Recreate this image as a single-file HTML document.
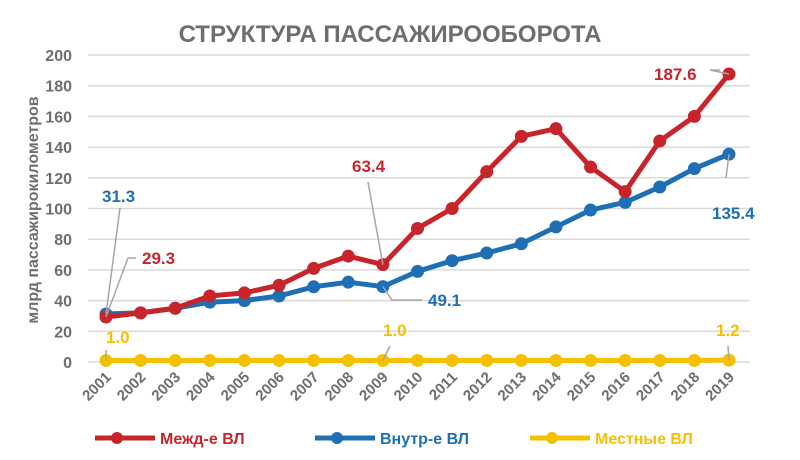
<!DOCTYPE html>
<html><head><meta charset="utf-8"><style>
body{margin:0;background:#fff;width:800px;height:455px;overflow:hidden;font-family:"Liberation Sans",sans-serif}
svg text{font-family:"Liberation Sans",sans-serif;font-weight:bold}
</style></head><body>
<svg id="c" width="800" height="455">
<text x="390" y="42" text-anchor="middle" font-size="24" fill="#6e6e6e">СТРУКТУРА ПАССАЖИРООБОРОТА</text>
<text transform="translate(38,210) rotate(-90)" text-anchor="middle" font-size="16" fill="#6e6e6e">млрд  пассажирокилометров</text>
<g id="grid"></g><g id="series"></g><g id="labels"></g>
<g>
<g><line x1="95" y1="438" x2="155" y2="438" stroke="#c8242b" stroke-width="5"/><circle cx="117" cy="438" r="6" fill="#c8242b"/><text x="160" y="444" font-size="16" fill="#c8242b">Межд-е ВЛ</text></g>
<g><line x1="315" y1="438" x2="375" y2="438" stroke="#1f6fb5" stroke-width="5"/><circle cx="337" cy="438" r="6" fill="#1f6fb5"/><text x="380" y="444" font-size="16" fill="#1f6fb5">Внутр-е ВЛ</text></g>
<g><line x1="530" y1="438" x2="590" y2="438" stroke="#f5c000" stroke-width="5"/><circle cx="552" cy="438" r="6" fill="#f5c000"/><text x="595" y="444" font-size="16" fill="#f5c000">Местные ВЛ</text></g>
</g>
</svg>
<script>
const categories=["2001","2002","2003","2004","2005","2006","2007","2008","2009","2010","2011","2012","2013","2014","2015","2016","2017","2018","2019"];
const mezhd=[29.3,32,35,43,45,50,61,69,63.4,87,100,124,147,152,127,111,144,160,187.6];
const vnutr=[31.3,32,35,39,40,43,49,52,49.1,59,66,71,77,88,99,104,114,126,135.4];
const mestnye=[1.0,1,1,1,1,1,1,1,1.0,1,1,1,1,1,1,1,1,1,1.2];
const yTicks=[0,20,40,60,80,100,120,140,160,180,200];
const NS="http://www.w3.org/2000/svg";
const x=i=>106+i*(729-106)/(categories.length-1);
const y=v=>362-v*(362-55)/200;
function mk(t,a,p){const e=document.createElementNS(NS,t);for(const k in a)e.setAttribute(k,a[k]);p.appendChild(e);return e;}
const grid=document.getElementById('grid'),ser=document.getElementById('series'),lab=document.getElementById('labels');
yTicks.forEach(v=>{
 const l=mk('line',{x1:88,x2:750,y1:y(v),y2:y(v),stroke:'#d9d9d9','stroke-width':1.5},grid);
 
 
 const t=mk('text',{x:72,y:y(v)+6,'text-anchor':'end','font-size':16,fill:'#6e6e6e'},grid);t.textContent=v;
 
 
});
categories.forEach((c,i)=>{
 const t=mk('text',{transform:`translate(${x(i)+6},${378}) rotate(-45)`,'text-anchor':'end','font-size':15,fill:'#6e6e6e'},grid);t.textContent=c;
 
 
});
function series(d,col,name){
 const g=mk('g',{},ser);
 
 
 mk('polyline',{points:d.map((v,i)=>x(i)+','+y(v)).join(' '),fill:'none',stroke:col,'stroke-width':5,'stroke-linejoin':'round'},g);
 d.forEach((v,i)=>{const c=mk('circle',{cx:x(i),cy:y(v),r:6.5,fill:col},g);
  
  });
}
series(mestnye,'#f5c000','series-mestnye');
series(vnutr,'#1f6fb5','series-vnutr');
series(mezhd,'#c8242b','series-mezhd');
function label(d,i,col,tx,ty,lx,ly,fmt){
 mk('polyline',{points:`${x(i)},${y(d[i])} ${lx},${ly}`+(fmt||''),fill:'none',stroke:'#a6a6a6','stroke-width':1.5},lab);
 const t=mk('text',{x:tx,y:ty,'font-size':17,fill:col},lab);t.textContent=d[i].toFixed(1);
 
 
}
label(vnutr,0,'#1f6fb5',102,202,120,208);
label(mezhd,0,'#c8242b',142,264,128,258,' 136,258');
label(mestnye,0,'#f5c000',106,343,106,350);
label(mezhd,8,'#c8242b',352,172,368,182);
label(vnutr,8,'#1f6fb5',428,306,392,300,' 422,300');
label(mestnye,8,'#f5c000',383,336,390,346);
label(mezhd,18,'#c8242b',654,80,710,70,' 720,70');
label(vnutr,18,'#1f6fb5',712,219,726,178);
label(mestnye,18,'#f5c000',716,336,728,346);
</script>
</body></html>
